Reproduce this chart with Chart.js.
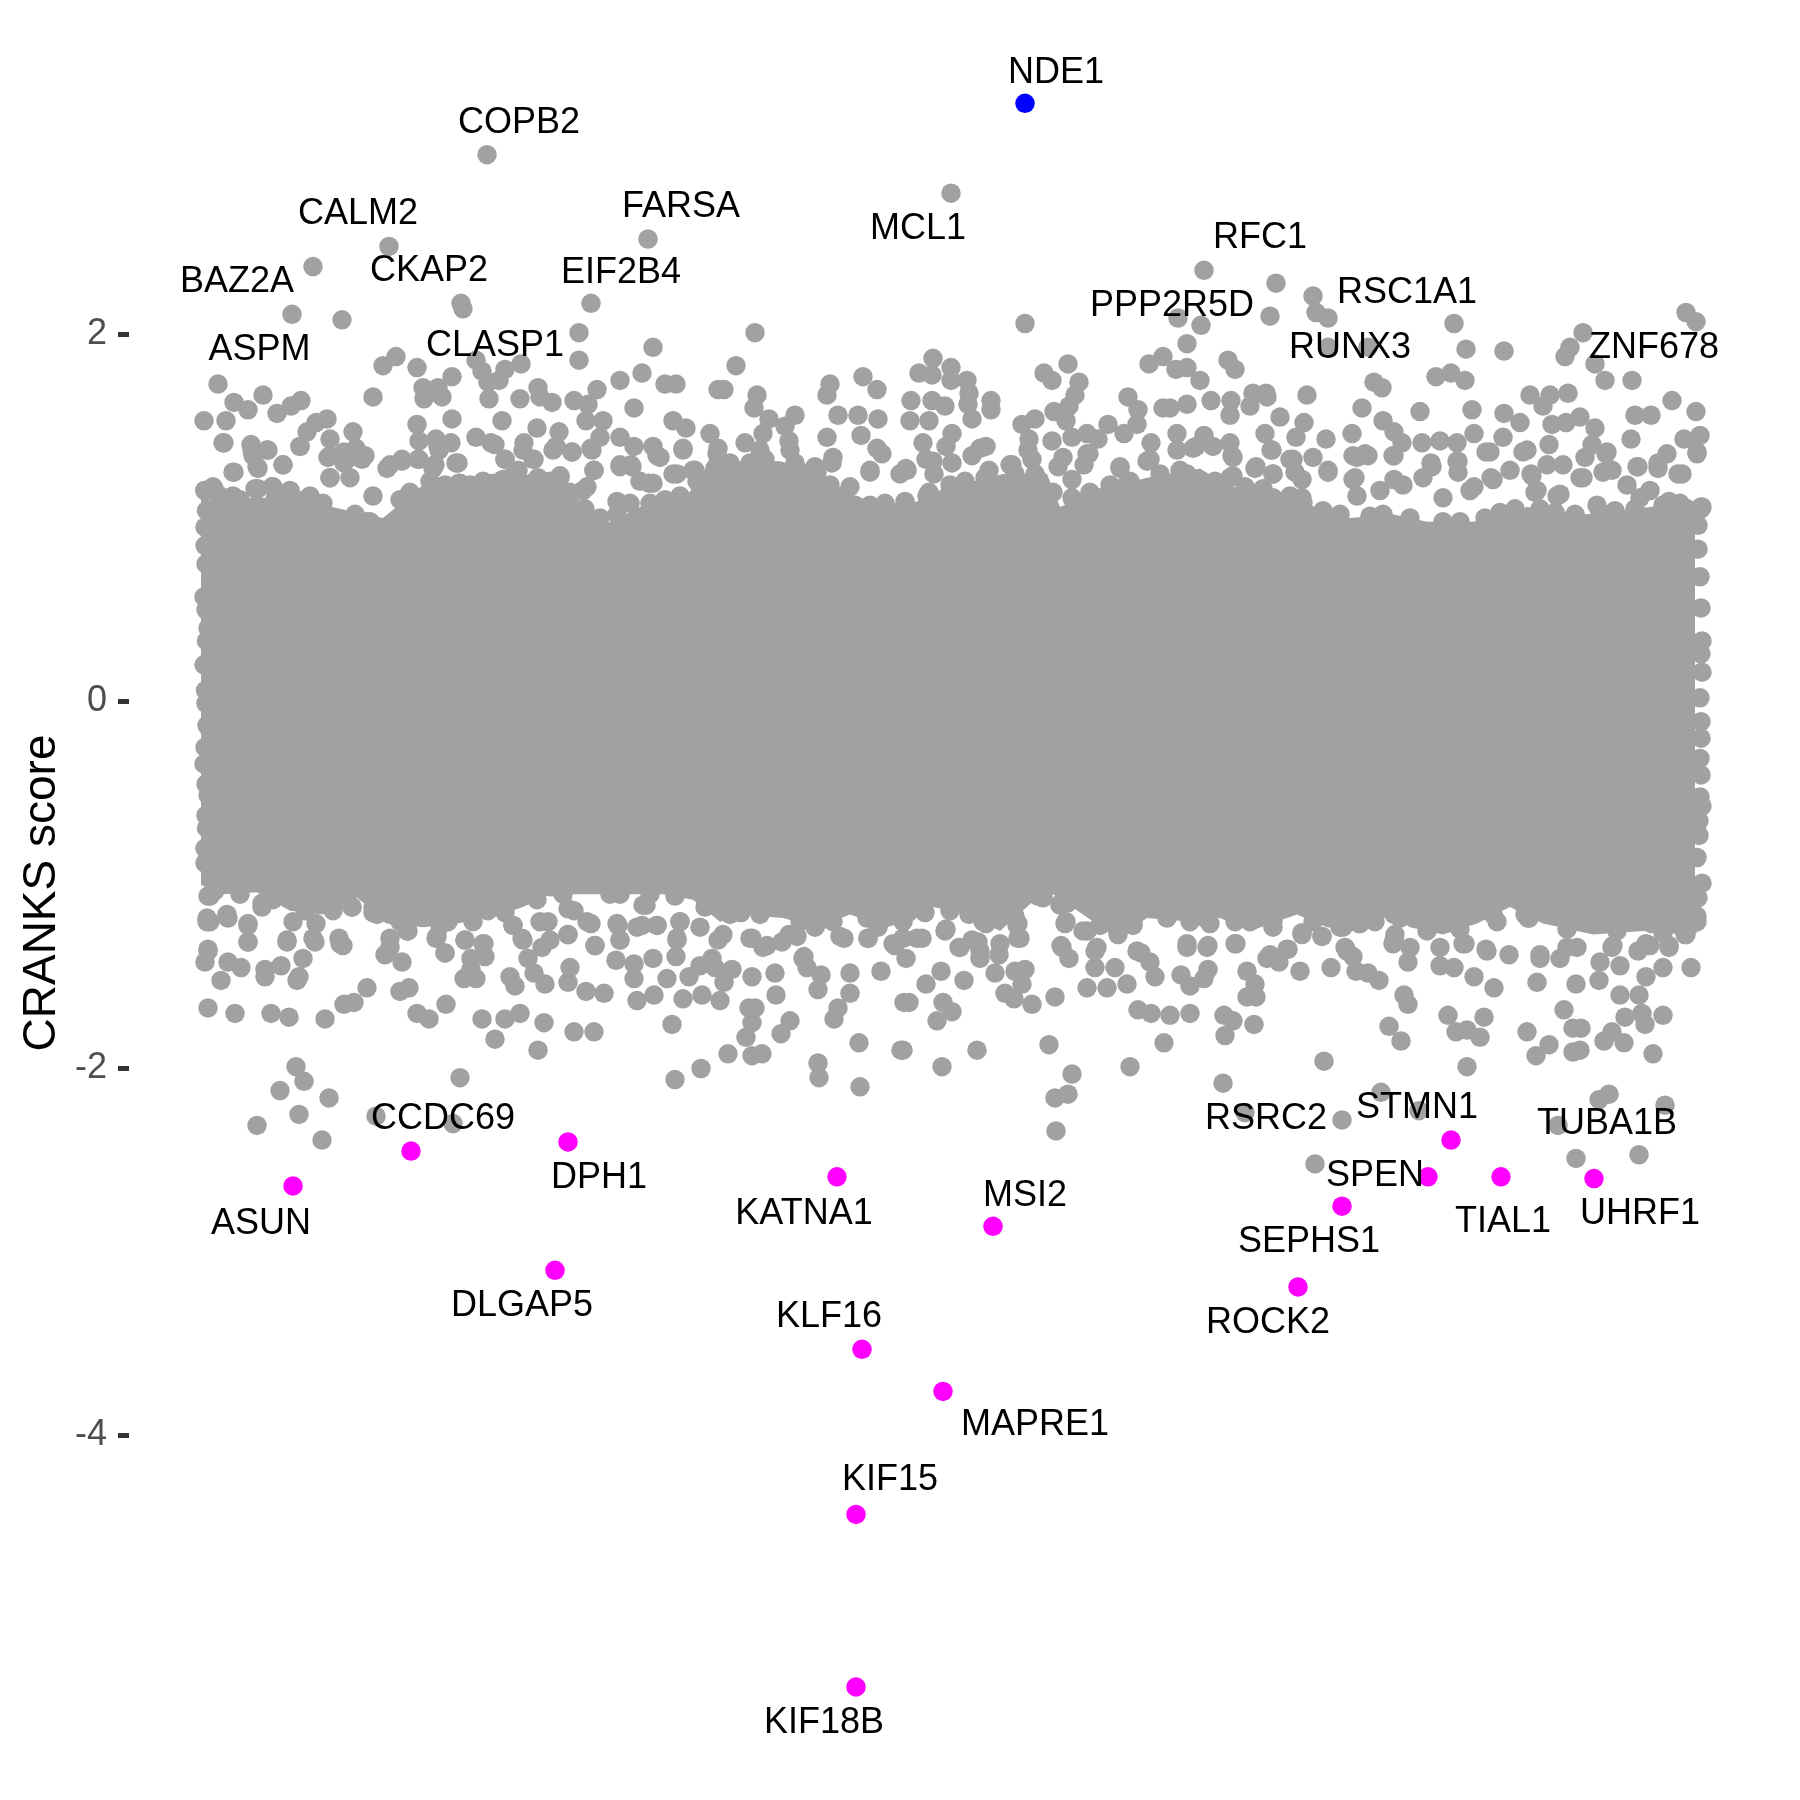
<!DOCTYPE html>
<html>
<head>
<meta charset="utf-8">
<script src="https://cdn.jsdelivr.net/npm/chart.js@4/dist/chart.umd.min.js"></script>
<style>
  html, body { margin: 0; background: #fff; }
  canvas { display: block; }
</style>
</head>
<body>
<canvas id="chart" width="1800" height="1800"></canvas>
<script>
// all values: [gene rank, CRANKS score]
const grayAbove = [
[282,2.98],[184,2.48],[108,2.37],[87,2.11],[137,2.08],[256,2.17],[258,2.14],[443,2.52],[386,2.17],[374,2.01],[374,1.86],[448,1.93],[550,2.01],[13,1.73],[178,1.83],[191,1.88],[212,1.82],[247,1.77],[271,1.86],[277,1.80],[283,1.74],[294,1.75],[300,1.81],[316,1.84],[168,1.66],[218,1.71],[219,1.65],[233,1.71],[237,1.66],[284,1.65],[315,1.65],[333,1.71],[335,1.66],[347,1.63],[369,1.64],[392,1.70],[383,1.62],[415,1.75],[437,1.79],[460,1.73],[471,1.73],[429,1.60],[513,1.70],[519,1.70],[531,1.83],[552,1.67],[549,1.60],[625,1.73],[622,1.67],[658,1.77],[672,1.70],
[-1,1.53],[21,1.53],[29,1.63],[43,1.59],[58,1.67],[72,1.57],[86,1.61],[96,1.64],[19,1.41],[111,1.52],[122,1.54],[102,1.47],[148,1.47],[125,1.43],[95,1.39],[46,1.40],[48,1.34],[62,1.37],[78,1.29],[29,1.25],[52,1.28],[68,1.17],[85,1.14],[53,1.16],[0,1.15],[9,1.16],[28,1.12],[125,1.34],[139,1.36],[151,1.38],[157,1.32],[125,1.22],[139,1.30],
[212,1.51],[214,1.42],[231,1.43],[246,1.41],[234,1.37],[247,1.54],[297,1.53],[271,1.44],[286,1.41],[319,1.41],[251,1.30],[197,1.32],[214,1.32],[185,1.29],[230,1.29],[300,1.32],[329,1.32],[332,1.49],[354,1.47],[351,1.39],[367,1.36],[381,1.53],[398,1.53],[395,1.44],[415,1.44],[386,1.38],[429,1.39],[448,1.39],[455,1.33],[468,1.53],[481,1.49],[478,1.38],[505,1.46],[513,1.38],[540,1.41],[558,1.46],[564,1.54],[590,1.56],[580,1.50],[584,1.42],[556,1.34],[633,1.56],[622,1.44],[653,1.56],[673,1.54],[656,1.45],[672,1.38],
[389,1.26],[415,1.29],[426,1.29],[444,1.19],[472,1.24],[490,1.26],[513,1.30],[547,1.30],[593,1.26],[610,1.28],[627,1.30],[665,1.25],[355,1.22],[254,1.19],[312,1.25],[289,1.19],[335,1.20],[412,1.09],[378,1.15],[168,1.12],[162,0.98],
[746,2.77],[999,2.35],[1071,2.28],[1108,2.21],[1111,2.12],[1123,2.09],[1065,2.10],[973,2.09],[996,2.05],[820,2.06],[982,1.95],[1123,1.93],[1163,1.93],[1249,2.06],[1261,1.92],[1299,1.91],[1378,2.01],[1365,1.93],[1360,1.88],[1481,2.12],[1491,2.07],[1390,1.84],[1400,1.75],[1427,1.75],
[728,1.87],[714,1.79],[727,1.78],[746,1.82],[746,1.75],[762,1.75],[764,1.68],[763,1.62],[786,1.64],[786,1.59],[706,1.64],[727,1.64],[740,1.61],[705,1.53],[724,1.53],[767,1.54],[839,1.79],[847,1.75],[863,1.84],[874,1.74],[870,1.67],[864,1.61],[849,1.58],[830,1.54],[817,1.51],[861,1.53],[923,1.66],[933,1.59],[932,1.51],[903,1.51],[919,1.46],[882,1.46],[893,1.43],[944,1.84],[958,1.88],[971,1.81],[982,1.82],[995,1.75],[1023,1.86],[1030,1.81],[1045,1.61],[1048,1.68],[1061,1.68],[1062,1.66],[1006,1.64],[1026,1.64],[1025,1.56],[982,1.62],[958,1.60],[965,1.60],[1075,1.55],[1099,1.52],[1102,1.67],[1060,1.46],[972,1.46],[999,1.45],[946,1.41],[1091,1.44],[1121,1.43],[1066,1.37],[1025,1.41],[1008,1.39],[991,1.39],
[1169,1.74],[1177,1.71],[1157,1.60],[1178,1.53],[1215,1.58],[1147,1.46],[1189,1.47],[1267,1.59],[1231,1.77],[1246,1.79],[1260,1.75],[1299,1.57],[1325,1.67],[1338,1.61],[1345,1.67],[1363,1.68],[1430,1.56],[1446,1.56],[1467,1.64],[1491,1.58],[1495,1.45],[1479,1.43],[1492,1.35],[1426,1.43],[1390,1.49],[1375,1.55],[1361,1.52],[1347,1.51],[1315,1.52],[1298,1.44],[1269,1.46],[1252,1.41],[1235,1.42],[1217,1.41],[1197,1.41],[1344,1.40],[1387,1.40],[1401,1.35],[1318,1.36],[1281,1.36],[1160,1.35],[1189,1.34],[1148,1.34],[1085,1.32],[1028,1.33],[945,1.32],[915,1.28],[884,1.35],[824,1.43],[847,1.42],[867,1.44],[781,1.39],[747,1.46],[718,1.41],[741,1.39],[767,1.34],[721,1.32],[747,1.30],[701,1.27],[807,1.29],[827,1.32],[853,1.28],[879,1.29],[784,1.26],[729,1.24],[724,1.14],[833,1.21],[867,1.21],[867,1.11],[896,1.11],[942,1.15],[919,1.17],[982,1.24],[1008,1.16],[1051,1.28],[1068,1.24],[1025,1.22],[1097,1.21],[1123,1.26],[1148,1.21],[1189,1.21],[1226,1.30],[1252,1.31],[1286,1.22],[1326,1.24],[1375,1.22],[1407,1.26],[1433,1.28],[1453,1.30],[1473,1.24],[1464,1.09],[1496,1.06],[1269,1.17],[1332,1.15],[1355,1.13],[1392,1.07],[1435,1.11],[1068,1.11],[1097,1.11]
];
const grayUpperFringe = [
[18,1.41],[47,1.37],[63,1.37],[78,1.29],[95,1.39],[53,1.27],[28,1.25],[0,1.15],[8,1.17],[50,1.16],[67,1.17],[85,1.15],[105,1.12],[123,1.33],[145,1.33],[160,1.34],[125,1.22],[145,1.22],[182,1.27],[197,1.31],[213,1.32],[228,1.27],[253,1.30],[255,1.19],[233,1.39],[290,1.40],[300,1.32],[328,1.32],[313,1.26],[333,1.22],[355,1.23],[367,1.36],[348,1.37],[387,1.37],[389,1.26],[415,1.28],[427,1.28],[452,1.34],[478,1.37],[448,1.19],[468,1.24],[488,1.26],[282,1.19],[298,1.21],[318,1.37],[382,1.17],[435,1.20],
[512,1.35],[555,1.37],[585,1.37],[628,1.33],[677,1.35],[702,1.26],[728,1.31],[775,1.38],[823,1.37],[858,1.33],[882,1.35],[915,1.27],[942,1.31],[972,1.37],[988,1.38],[805,1.29],[665,1.26],[645,1.17],[695,1.24],
[1027,1.34],[1050,1.27],[1067,1.37],[1068,1.24],[1028,1.23],[1088,1.32],[1090,1.25],[1108,1.33],[1123,1.25],[1152,1.33],[1163,1.34],[1150,1.22],[1152,1.12],[1175,1.15],[1198,1.18],[1188,1.34],[1227,1.28],[1253,1.31],[1253,1.25],[1218,1.22],[1238,1.11],[1265,1.15],[1288,1.21],[1285,1.36],[1305,1.26],[1322,1.37],[1327,1.23],[1342,1.29],[1358,1.29],[1378,1.22],[1398,1.25],[1380,1.33],[1402,1.36],[1432,1.28],[1453,1.27],[1462,1.35],[1477,1.24],[1492,1.36],[1497,1.06],[1482,1.05],[1465,1.08],[1352,1.12],[1330,1.14],[1422,1.18],[1445,1.15]
];
const grayUpperRim = [
[15,1.12],[35,1.10],[70,1.10],[100,1.10],[118,1.08],[150,1.02],[165,0.98],[195,1.10],[205,1.14],[225,1.2],[240,1.18],[265,1.18],[278,1.2],[305,1.22],[330,1.2],[345,1.2],[365,1.14],[380,1.05],[395,1.0],[412,1.02],[425,1.08],[445,1.08],[460,1.1],[475,1.12],[492,1.2],
[510,1.27],[525,1.3],[545,1.3],[560,1.32],[590,1.3],[612,1.25],[625,1.18],[637,1.12],[650,1.07],[665,1.07],[680,1.08],[700,1.09],[722,1.12],[745,1.18],[760,1.2],[780,1.22],[810,1.24],[830,1.24],[848,1.14],[868,1.1],[885,1.14],[905,1.18],[925,1.2],[955,1.24],[975,1.26],
[1010,1.2],[1040,1.17],[1058,1.16],[1085,1.12],[1098,1.08],[1118,1.04],[1135,1.02],[1165,1.01],[1178,1.02],[1205,1.0],[1238,0.98],[1255,0.98],[1280,1.0],[1295,1.03],[1310,1.05],[1335,1.05],[1350,1.03],[1370,1.02],[1395,1.03],[1410,1.04],[1430,1.05],[1458,1.07],[1475,1.08]
];
const grayBelow = [
[91,-1.99],[99,-2.07],[75,-2.12],[124,-2.16],[94,-2.25],[52,-2.31],[117,-2.39],[171,-2.26],[248,-2.30],[255,-2.05],[470,-2.06],[496,-2.00],[523,-1.92],[547,-1.93],[557,-1.92],[613,-1.97],[614,-2.05],[655,-2.10],[654,-1.86],[696,-1.90],[333,-1.90],[369,-1.80],[389,-1.80],[290,-1.84],[339,-1.75],[315,-1.70],[300,-1.73],[277,-1.73],[241,-1.65],[212,-1.70],[224,-1.73],[3,-1.67],[30,-1.70],[66,-1.70],[84,-1.72],[120,-1.73],[139,-1.65],[149,-1.64],[162,-1.56],[195,-1.58],[204,-1.56],[16,-1.52],[0,-1.42],[3,-1.35],[23,-1.42],[36,-1.45],[60,-1.50],[60,-1.46],[76,-1.44],[92,-1.52],[94,-1.50],[98,-1.40],[43,-1.31],[82,-1.30],[108,-1.29],[138,-1.33],[134,-1.29],[5,-1.20],[22,-1.16],[43,-1.21],[57,-1.10],[88,-1.20],[111,-1.21],[128,-1.14],[147,-1.12],[139,-1.03],
[180,-1.38],[197,-1.42],[185,-1.29],[203,-1.25],[231,-1.29],[240,-1.37],[260,-1.30],[279,-1.32],[266,-1.40],[280,-1.39],[259,-1.51],[271,-1.51],[266,-1.46],[305,-1.50],[310,-1.55],[340,-1.54],[329,-1.48],[323,-1.40],[337,-1.34],[317,-1.29],[308,-1.22],[335,-1.20],[363,-1.53],[365,-1.45],[381,-1.58],[399,-1.59],[390,-1.33],[363,-1.27],[386,-1.21],[415,-1.30],[411,-1.41],[429,-1.51],[429,-1.43],[448,-1.40],[452,-1.22],[432,-1.23],[412,-1.21],[441,-1.11],[462,-1.51],[432,-1.63],[449,-1.60],[478,-1.62],[497,-1.60],[515,-1.63],[484,-1.50],[495,-1.44],[510,-1.45],[519,-1.53],[527,-1.46],[513,-1.30],[507,-1.40],[471,-1.39],[472,-1.29],[495,-1.23],[475,-1.20],[467,-1.76],[544,-1.67],[550,-1.67],[547,-1.75],[541,-1.83],[585,-1.74],[576,-1.81],[629,-1.73],[633,-1.67],[571,-1.60],[547,-1.50],[570,-1.48],[599,-1.39],[602,-1.45],[616,-1.49],[613,-1.57],[645,-1.48],[645,-1.59],[676,-1.47],[699,-1.64],[558,-1.34],[584,-1.27],[610,-1.23],[639,-1.29],[663,-1.29],[547,-1.29],[688,-1.32],[679,-1.07],[536,-1.15],[673,-1.23],[185,-1.16],[168,-1.15],[243,-1.20],[283,-1.14],[346,-1.01],[369,-1.14],[415,-1.05],
[851,-2.34],[850,-2.16],[863,-2.14],[867,-2.03],[844,-1.87],[772,-1.90],[737,-1.99],[698,-1.90],[732,-1.74],[747,-1.69],[738,-1.64],[704,-1.64],[721,-1.54],[736,-1.47],[759,-1.52],[790,-1.48],[800,-1.59],[809,-1.62],[827,-1.65],[850,-1.61],[817,-1.54],[810,-1.47],[820,-1.46],[882,-1.56],[902,-1.56],[922,-1.54],[910,-1.45],[890,-1.45],[864,-1.40],[856,-1.33],[933,-1.68],[946,-1.70],[965,-1.71],[985,-1.70],[1019,-1.71],[1028,-1.74],[1020,-1.82],[1049,-1.76],[959,-1.86],[925,-1.99],[1018,-2.08],[1040,-2.24],[1137,-2.28],[1119,-1.96],[1110,-2.52],[1176,-2.13],[1214,-2.23],[1353,-2.31],[1394,-2.17],[1404,-2.14],[1460,-2.20],[1371,-2.49],[1434,-2.47],[1262,-1.99],[1184,-1.77],[1196,-1.85],[1199,-1.60],[1203,-1.65],[1243,-1.71],[1279,-1.72],[1251,-1.80],[1262,-1.79],[1275,-1.83],[1322,-1.80],[1344,-1.87],[1331,-1.93],[1368,-1.91],[1375,-1.90],[1359,-1.68],[1368,-1.78],[1376,-1.78],[1399,-1.85],[1407,-1.80],[1419,-1.86],[1420,-1.72],[1437,-1.70],[1440,-1.76],[1458,-1.71],[1448,-1.92],[1332,-1.53],[1371,-1.54],[1394,-1.52],[1415,-1.60],[1434,-1.60],[1441,-1.50],[1486,-1.45],[1458,-1.45],[1464,-1.34],[1415,-1.44],[1395,-1.42],[1335,-1.38],[1289,-1.56],[1269,-1.50],[1249,-1.45],[1235,-1.44],[1203,-1.42],[1174,-1.52],[1163,-1.48],[1151,-1.47],[1148,-1.39],[1140,-1.34],[1126,-1.45],[1095,-1.47],[1042,-1.47],[1050,-1.54],[1042,-1.61],[1051,-1.61],[1003,-1.46],[999,-1.51],[985,-1.55],[950,-1.50],[976,-1.49],[1002,-1.34],[982,-1.32],[1031,-1.32],[1062,-1.40],[1082,-1.35],[1074,-1.42],[936,-1.37],[945,-1.42],[890,-1.36],[882,-1.25],[861,-1.20],[794,-1.38],[775,-1.40],[754,-1.34],[767,-1.30],[813,-1.29],[813,-1.21],[741,-1.24],[712,-1.29],[701,-1.40],[781,-1.21],[833,-1.06],[856,-1.10],[913,-1.27],[1097,-1.26],[1117,-1.28],[1154,-1.21],[1189,-1.30],[1235,-1.34],[1260,-1.32],[1281,-1.35],[1304,-1.38],[1355,-1.40],[1372,-1.34],[1407,-1.34],[1441,-1.32],[1324,-1.18],[1487,-1.20],[1481,-1.27],[703,-1.15],[764,-1.16],[1005,-1.21],[1045,-1.20],[1068,-1.23],[1137,-1.20],[1189,-1.16],[1292,-1.20],[1361,-1.20],[1447,-1.21]
];
const grayLowerFringe = [
[2,-1.2],[23,-1.18],[3,-1.06],[57,-1.12],[43,-1.22],[43,-1.31],[82,-1.31],[110,-1.31],[135,-1.32],[147,-1.12],[142,-1.04],[3,-1.36],[185,-1.34],[202,-1.25],[232,-1.28],[240,-1.37],[260,-1.30],[278,-1.32],[308,-1.22],[318,-1.30],[345,-1.30],[343,-1.20],[363,-1.27],[363,-1.13],[382,-1.2],[390,-1.33],[413,-1.22],[415,-1.30],[438,-1.11],[437,-1.22],[452,-1.22],[475,-1.2],[472,-1.30],[172,-1.16],
[518,-1.27],[545,-1.29],[562,-1.33],[577,-1.31],[592,-1.28],[598,-1.4],[612,-1.21],[635,-1.28],[663,-1.29],[690,-1.33],[698,-1.29],[717,-1.29],[740,-1.25],[755,-1.34],[773,-1.31],[775,-1.36],[795,-1.32],[815,-1.29],[812,-1.22],[855,-1.11],[860,-1.21],[857,-1.34],[878,-1.25],[892,-1.34],[913,-1.25],[928,-1.21],[932,-1.36],[985,-1.2],[982,-1.34],[1003,-1.33],[838,-1.06],
[1030,-1.32],[1065,-1.38],[1083,-1.35],[1097,-1.27],[1117,-1.28],[1142,-1.36],[1135,-1.23],[1155,-1.21],[1190,-1.27],[1188,-1.32],[1205,-1.34],[1258,-1.32],[1282,-1.36],[1323,-1.18],[1335,-1.40],[1362,-1.34],[1408,-1.33],[1433,-1.36],[1445,-1.33],[1464,-1.33],[1480,-1.27],[1492,-1.2]
];
const grayLowerRim = [
[10,-1.03],[35,-1.05],[68,-1.08],[100,-1.14],[128,-1.12],[168,-1.12],[195,-1.2],[235,-1.22],[268,-1.2],[300,-1.15],[332,-1.08],[358,-1.05],[405,-1.05],[445,-1.05],[470,-1.06],[500,-1.12],[525,-1.16],[555,-1.16],[595,-1.2],[628,-1.2],[662,-1.18],[698,-1.2],[720,-1.15],[745,-1.14],[778,-1.2],[810,-1.17],[838,-1.07],[862,-1.1],[895,-1.22],[928,-1.22],[962,-1.18],[1000,-1.18],[1030,-1.2],[1068,-1.2],[1108,-1.2],[1138,-1.23],[1170,-1.2],[1195,-1.18],[1222,-1.25],[1255,-1.24],[1288,-1.16],[1320,-1.16],[1362,-1.24],[1412,-1.25],[1458,-1.26],[1485,-1.22]
];
const grayLeftEdge = [
[0,1.15],[1.5,1.04],[0,0.95],[0,0.85],[1,0.75],[-1,0.57],[1,0.50],[3,0.40],[1.5,0.33],[-1,0.20],[0.5,0.06],[1,-0.01],[2,-0.13],[0,-0.25],[-1,-0.34],[1,-0.45],[3,-0.51],[1,-0.62],[1.5,-0.69],[0,-0.80],[0,-0.88],[10,-0.97],[5,-1.06],[2,-1.18]
];
const grayRightEdge = [
[1496,1.05],[1493,0.96],[1493,0.83],[1495,0.68],[1496,0.51],[1497,0.33],[1496,0.26],[1497,0.16],[1495,0.02],[1496,-0.11],[1496,-0.20],[1495,-0.31],[1496,-0.40],[1495,-0.52],[1497,-0.57],[1494,-0.65],[1494,-0.73],[1492,-0.85],[1497,-0.99],[1493,-1.07],[1492,-1.17]
];

// the solid core is thousands of overlapping dots, so it is a band between two read envelopes
const upperRank = [-4,52,85,135,178,218,252,318,352,402,435,478,502,535,575,602,655,712,738,798,842,855,895,942,995,1025,1072,1105,1145,1188,1222,1268,1322,1382,1445,1490];
const upperScore = [1.10,1.11,1.11,1.05,1.0,1.18,1.15,1.24,1.2,0.97,1.06,1.09,1.28,1.31,1.31,1.27,1.07,1.09,1.16,1.24,1.24,1.06,1.15,1.22,1.27,1.17,1.15,1.07,1.0,1.02,0.98,0.98,1.06,1.02,1.06,1.09];
const lowerRank = [-4,18,52,85,118,152,185,218,252,285,318,345,385,425,458,488,515,535,578,612,645,682,712,728,762,795,828,848,878,912,942,985,1015,1045,1092,1122,1155,1185,1205,1238,1272,1305,1338,1388,1438,1478,1490];
const lowerScore = [-1.0,-1.05,-1.04,-1.14,-1.16,-1.07,-1.21,-1.23,-1.21,-1.18,-1.12,-1.05,-1.05,-1.05,-1.05,-1.08,-1.2,-1.16,-1.18,-1.23,-1.16,-1.23,-1.18,-1.12,-1.16,-1.25,-1.09,-1.05,-1.16,-1.29,-1.18,-1.2,-1.18,-1.25,-1.16,-1.23,-1.25,-1.16,-1.23,-1.27,-1.21,-1.12,-1.21,-1.27,-1.25,-1.27,-1.2];

const downHits = [[88,-2.64],[206,-2.45],[363,-2.40],[632,-2.59],[350,-3.10],[788,-2.86],[1246,-2.39],[1223,-2.59],[1296,-2.59],[1389,-2.60],[1137,-2.75],[657,-3.53],[738,-3.76],[651,-4.43],[651,-5.37],[1093,-3.19]];
const upHits = [[820,3.26]];

const yTicks = [-4, -2, 0, 2];

// gene labels, placed in data units at the centre of each text
const labelNames = ['ASPM','BAZ2A','CALM2','COPB2','CKAP2','CLASP1','EIF2B4','FARSA','MCL1','NDE1','RFC1','PPP2R5D','RSC1A1','RUNX3','ZNF678','CCDC69','ASUN','DPH1','DLGAP5','KATNA1','MSI2','KLF16','MAPRE1','KIF15','KIF18B','RSRC2','STMN1','TUBA1B','SPEN','TIAL1','UHRF1','SEPHS1','ROCK2'];
const labelRank = [54.5,32,153,314,224,290,416,476,713,851,1055,967,1202,1145,1449,238,56,394,317,599,820,624,830,685,619,1061,1212,1402,1170,1298,1435,1104,1063];
const labelScore = [1.92,2.29,2.66,3.16,2.35,1.94,2.34,2.70,2.58,3.43,2.53,2.16,2.23,1.93,1.93,-2.27,-2.84,-2.59,-3.29,-2.79,-2.69,-3.35,-3.94,-4.24,-5.56,-2.27,-2.21,-2.30,-2.58,-2.83,-2.79,-2.94,-3.38];

const GRAY = '#A1A1A1';
const toXY = pts => pts.map(p => ({ x: p[0], y: p[1] }));
const dots = (data, color) => ({
  data: toXY(data),
  showLine: false,
  pointRadius: 9.75,
  pointBorderWidth: 0,
  pointBackgroundColor: color,
});

const noPadding = (axis) => {
  axis.paddingTop = 0;
  axis.paddingBottom = 0;
  axis.paddingLeft = 0;
  axis.paddingRight = 0;
};

const geneLabels = {
  id: 'geneLabels',
  afterDatasetsDraw(chart) {
    const { ctx, scales: { x, y } } = chart;
    ctx.save();
    ctx.font = '36px "Liberation Sans"';
    ctx.fillStyle = '#000';
    ctx.textAlign = 'center';
    ctx.textBaseline = 'middle';
    labelNames.forEach((name, i) => {
      ctx.fillText(name, x.getPixelForValue(labelRank[i]), y.getPixelForValue(labelScore[i]) + 1);
    });
    ctx.restore();
  },
};

new Chart(document.getElementById('chart').getContext('2d'), {
  type: 'scatter',
  data: {
    datasets: [
      {
        data: upperRank.map((r, i) => ({ x: r, y: upperScore[i] })),
        showLine: true, pointRadius: 0, borderWidth: 0,
        backgroundColor: GRAY, fill: '+1',
      },
      {
        data: lowerRank.map((r, i) => ({ x: r, y: lowerScore[i] })),
        showLine: true, pointRadius: 0, borderWidth: 0, fill: false,
      },
      dots(grayAbove, GRAY),
      dots(grayUpperFringe, GRAY),
      dots(grayUpperRim, GRAY),
      dots(grayBelow, GRAY),
      dots(grayLowerFringe, GRAY),
      dots(grayLowerRim, GRAY),
      dots(grayLeftEdge, GRAY),
      dots(grayRightEdge, GRAY),
      dots(downHits, '#FF00FF'),
      dots(upHits, '#0000FF'),
    ],
  },
  options: {
    responsive: false,
    animation: false,
    layout: { autoPadding: false, padding: { top: 0, right: 0, bottom: 14, left: 0 } },
    plugins: { legend: { display: false }, tooltip: { enabled: false } },
    scales: {
      x: { type: 'linear', display: false, min: -76, max: 1595, afterFit: noPadding },
      y: {
        type: 'linear',
        min: -5.91,
        max: 3.823,
        afterBuildTicks: (axis) => { axis.ticks = yTicks.map(v => ({ value: v })); },
        afterFit: (axis) => { axis.width = 129; noPadding(axis); },
        border: { display: false },
        grid: { drawOnChartArea: false, tickColor: '#333333', tickWidth: 5, tickLength: 11 },
        ticks: {
          padding: 11,
          color: '#4D4D4D',
          font: { family: '"Liberation Sans"', size: 36 },
        },
        title: {
          display: true,
          text: 'CRANKS score',
          color: '#000',
          font: { family: '"Liberation Sans"', size: 46 },
          padding: { top: 15, bottom: 0 },
        },
      },
    },
  },
  plugins: [geneLabels],
});
</script>
</body>
</html>
